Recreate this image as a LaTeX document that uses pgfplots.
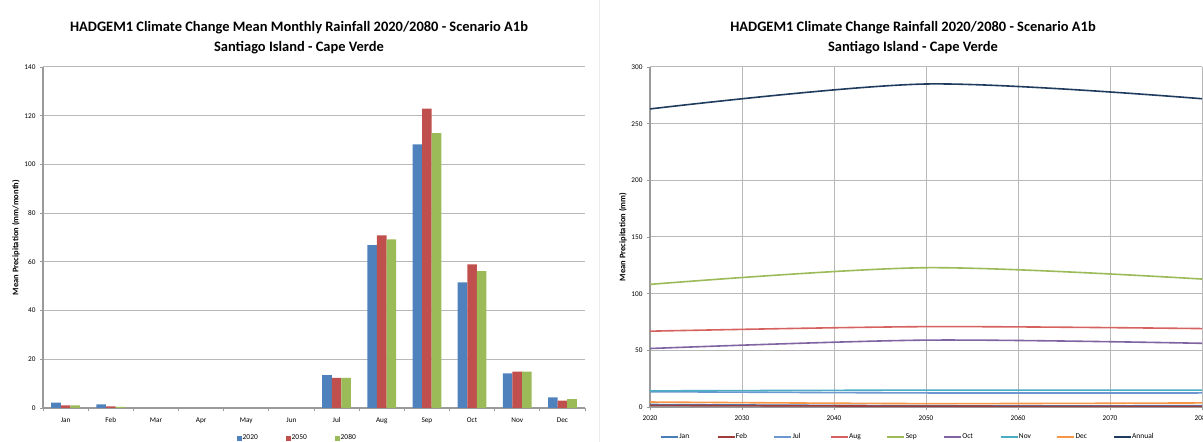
\documentclass[border=0pt]{standalone}
\usepackage{fontspec}
\setmainfont{Carlito}
\usepackage{pgfplots}
\pgfplotsset{compat=1.18}
\definecolor{xblue}{HTML}{4F81BD}
\definecolor{xred}{HTML}{C0504D}
\definecolor{xgreen}{HTML}{9BBB59}
\definecolor{xpurple}{HTML}{8064A2}
\definecolor{xaqua}{HTML}{4BACC6}
\definecolor{xorange}{HTML}{F79646}
\definecolor{xnavy}{HTML}{1F3B5E}
\definecolor{xjan}{HTML}{4A7EBB}
\definecolor{xfeb}{HTML}{A03C3A}
\definecolor{xjul}{HTML}{6D97D0}
\definecolor{xaug}{HTML}{D5625F}
\definecolor{gridc}{HTML}{B8B8B8}
\definecolor{axc}{HTML}{9A9A9A}
\begin{document}
\begin{tikzpicture}
\path[use as bounding box] (0bp,0bp) rectangle (1203bp,442bp);
\draw[gray!15, line width=1bp] (599bp,0bp) -- (599bp,442bp);
\node[font=\bfseries\fontsize{14.5}{20}\selectfont, align=center] at (299bp,404bp) {HADGEM1 Climate Change Mean Monthly Rainfall 2020/2080 - Scenario A1b\\Santiago Island - Cape Verde};
\node[font=\bfseries\fontsize{14.5}{20}\selectfont, align=center] at (913bp,404bp) {HADGEM1 Climate Change Rainfall 2020/2080 - Scenario A1b\\Santiago Island - Cape Verde};
\begin{axis}[
  at={(43bp,34bp)}, anchor=south west, scale only axis,
  width=542bp, height=341bp,
  ybar=0pt, bar width=9.6bp,
  xmin=-0.5, xmax=11.5, ymin=0, ymax=140,
  xtick={0,...,11},
  xticklabels={Jan,Feb,Mar,Apr,May,Jun,Jul,Aug,Sep,Oct,Nov,Dec},
  minor xtick={-0.5,0.5,...,11.5},
  ytick={0,20,...,140},
  axis x line*=bottom, axis y line*=left,
  axis line style={axc, line width=1.2bp, -},
  ymajorgrids, grid style={gridc, line width=1bp},
  tick align=outside,
  major x tick style={draw=none},
  minor x tick style={axc, line width=0.8bp},
  major y tick style={axc, line width=0.8bp},
  major tick length=3bp, minor tick length=3bp,
  tick label style={font=\fontsize{7.3}{8}\selectfont, /pgf/number format/assume math mode=true},
  xticklabel style={yshift=-3bp},
  yticklabel style={xshift=-1bp},
  ylabel={\bfseries Mean Precipitation (mm/month)},
  ylabel style={font=\fontsize{8.5}{9}\selectfont, yshift=-2bp},
  legend style={at={(0.493,-0.088)}, anchor=center, draw=none, font=\fontsize{7.5}{8}\selectfont, legend columns=3,
    nodes={inner sep=1bp, text width=42bp, align=left}, /tikz/every even column/.append style={column sep=0bp}},
  legend image code/.code={\fill[#1] (0bp,-2.5bp) rectangle (5bp,2.5bp);},
]
\addplot[fill=xblue, draw=none] coordinates {(0,2.2) (1,1.5) (2,0) (3,0) (4,0) (5,0) (6,13.5) (7,66.9) (8,108.2) (9,51.6) (10,14.2) (11,4.4)};
\addplot[fill=xred, draw=none] coordinates {(0,1.1) (1,0.7) (2,0) (3,0) (4,0) (5,0) (6,12.4) (7,70.9) (8,122.9) (9,59.0) (10,14.9) (11,3.0)};
\addplot[fill=xgreen, draw=none] coordinates {(0,1.1) (1,0.5) (2,0) (3,0) (4,0) (5,0) (6,12.4) (7,69.2) (8,112.9) (9,56.2) (10,14.9) (11,3.6)};
\legend{2020,2050,2080}
\end{axis}
\begin{axis}[
  at={(650bp,35bp)}, anchor=south west, scale only axis,
  width=552bp, height=340bp,
  xmin=2020, xmax=2080, ymin=0, ymax=300,
  xtick={2020,2030,...,2080},
  ytick={0,50,...,300},
  axis x line*=bottom, axis y line*=left,
  axis line style={axc, line width=1.2bp, -},
  grid=major, grid style={gridc, line width=1bp},
  tick align=outside,
  major tick style={axc, line width=0.8bp},
  major tick length=3bp,
  tick label style={font=\fontsize{7.3}{8}\selectfont, /pgf/number format/assume math mode=true, /pgf/number format/1000 sep={}},
  xticklabel style={yshift=-2bp},
  yticklabel style={xshift=-1bp},
  ylabel={\bfseries Mean Precipitation (mm)},
  ylabel style={font=\fontsize{8.5}{9}\selectfont, yshift=-2bp},
  legend style={at={(0.48,-0.088)}, anchor=center, draw=none, font=\fontsize{7.5}{8}\selectfont, legend columns=9,
    nodes={inner sep=0.5bp, text width=37bp, align=left}, /tikz/every even column/.append style={column sep=0bp}},
  legend image code/.code={\draw[#1] (0bp,0bp) -- (17bp,0bp);},
  every axis plot/.append style={smooth, line width=1.6bp, no markers},
]
\addplot[xjan] coordinates {(2020,2.2) (2050,1.1) (2080,1.1)};
\addplot[xfeb] coordinates {(2020,1.5) (2050,0.7) (2080,0.5)};
\addplot[xjul] coordinates {(2020,13.5) (2050,12.4) (2080,12.4)};
\addplot[xaug] coordinates {(2020,66.9) (2050,70.9) (2080,69.2)};
\addplot[xgreen] coordinates {(2020,108.2) (2050,122.9) (2080,112.9)};
\addplot[xpurple] coordinates {(2020,51.6) (2050,59.0) (2080,56.2)};
\addplot[xaqua] coordinates {(2020,14.2) (2050,14.9) (2080,14.9)};
\addplot[xorange] coordinates {(2020,4.4) (2050,3.0) (2080,3.6)};
\addplot[xnavy] coordinates {(2020,263) (2050,285) (2080,272)};
\legend{Jan,Feb,Jul,Aug,Sep,Oct,Nov,Dec,Annual}
\end{axis}
\end{tikzpicture}
\end{document}
